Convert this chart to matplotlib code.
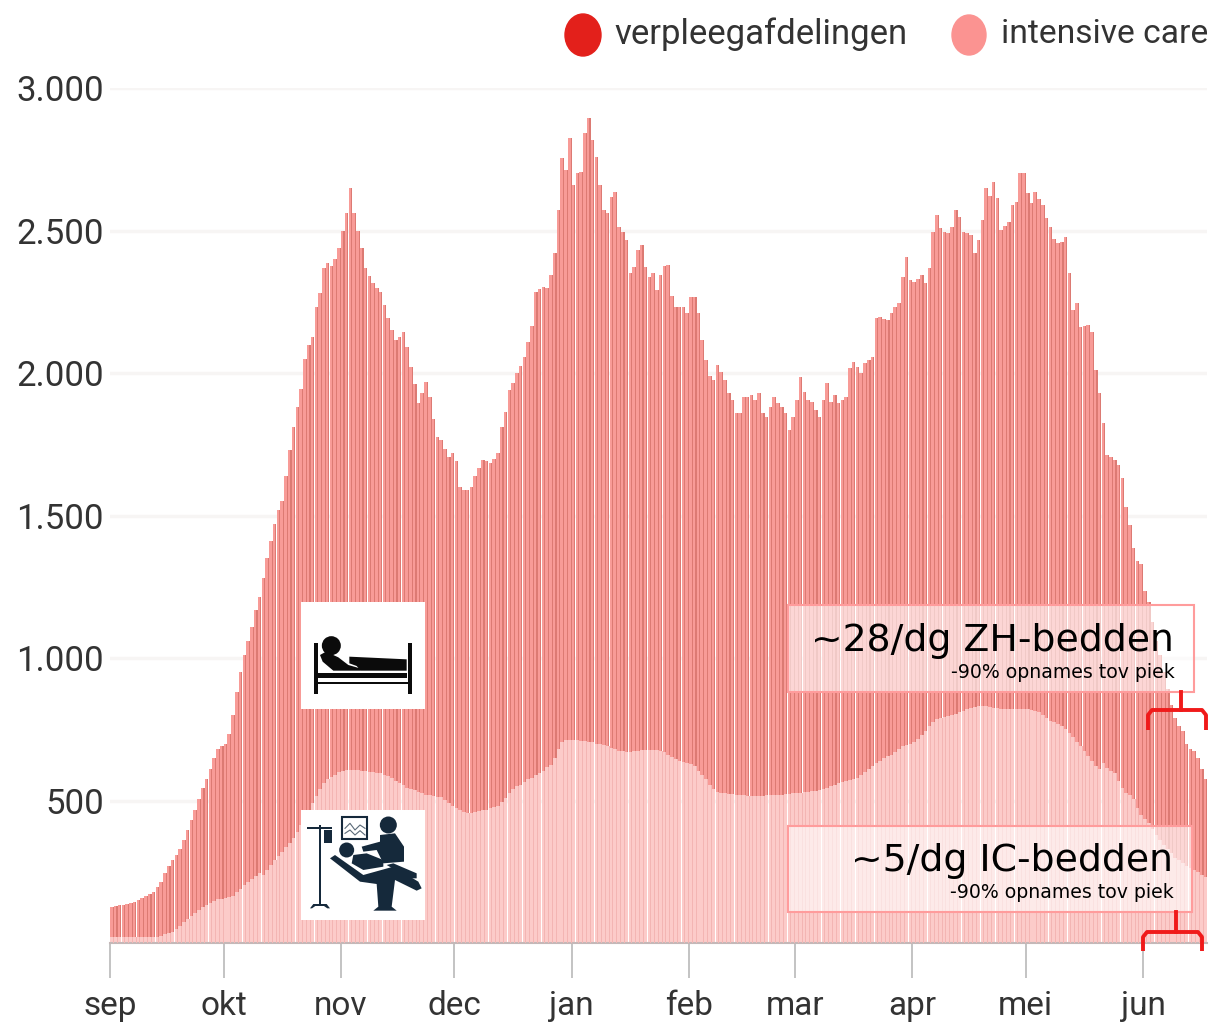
"""Bezetting ziekenhuisbedden per dag: verpleegafdelingen en intensive care."""

import matplotlib

matplotlib.use("Agg")
import matplotlib.pyplot as plt
import numpy as np
from matplotlib.patches import Circle, Ellipse, Polygon, Rectangle

# total occupied beds per day (top of the stack)
total_sep = [126, 130, 132, 135, 138, 140, 145, 150, 158, 165, 172, 180, 195, 215, 245, 270, 290, 310, 330, 360,
	395, 430, 465, 505, 545, 575, 610, 650, 680, 690]
total_okt = [700, 735, 800, 880, 950, 1010, 1060, 1110, 1170, 1215, 1280, 1350, 1410, 1470, 1520, 1550, 1640, 1730,
	1810, 1880, 1945, 2050, 2100, 2125, 2230, 2280, 2370, 2385, 2375, 2400, 2440]
total_nov = [2500, 2560, 2650, 2560, 2500, 2440, 2370, 2340, 2316, 2300, 2284, 2240, 2193, 2150, 2116, 2125, 2144,
	2090, 2021, 1960, 1895, 1930, 1968, 1916, 1840, 1775, 1765, 1735, 1705, 1719]
total_dec = [1690, 1600, 1589, 1590, 1600, 1640, 1665, 1695, 1690, 1684, 1700, 1719, 1810, 1863, 1940, 1965, 2000,
	2025, 2056, 2110, 2165, 2284, 2296, 2302, 2298, 2344, 2421, 2572, 2754, 2712, 2825]
total_jan = [2660, 2702, 2705, 2842, 2895, 2818, 2758, 2660, 2572, 2561, 2618, 2635, 2512, 2495, 2467, 2351, 2372,
	2432, 2449, 2372, 2337, 2351, 2291, 2345, 2375, 2379, 2270, 2232, 2232, 2232, 2211]
total_feb = [2267, 2267, 2211, 2116, 2046, 1990, 1975, 2028, 2005, 1975, 1930, 1905, 1860, 1860, 1916, 1916, 1923,
	1905, 1930, 1860, 1846, 1880, 1916, 1895, 1881, 1860, 1800, 1846]
total_mar = [1905, 1986, 1933, 1905, 1898, 1870, 1846, 1905, 1965, 1898, 1923, 1895, 1905, 1916, 2018, 2039, 2020,
	2000, 2035, 2045, 2056, 2193, 2197, 2190, 2186, 2210, 2230, 2246, 2337, 2407, 2326]
total_apr = [2319, 2330, 2344, 2316, 2368, 2495, 2554, 2509, 2495, 2491, 2512, 2572, 2547, 2495, 2490, 2484, 2421,
	2467, 2537, 2649, 2620, 2670, 2614, 2502, 2515, 2530, 2589, 2600, 2702, 2702]
total_mei = [2632, 2596, 2635, 2610, 2590, 2544, 2512, 2470, 2456, 2460, 2477, 2351, 2221, 2246, 2160, 2165, 2170,
	2144, 2010, 1930, 1825, 1712, 1705, 1695, 1677, 1630, 1530, 1465, 1385, 1340, 1330]
total_jun = [1235, 1195, 1125, 1060, 1010, 950, 890, 835, 790, 760, 745, 700, 680, 675, 650, 610, 575]

# intensive care beds per day
ic_sep = [20, 20, 20, 20, 20, 20, 20, 20, 20, 20, 20, 20, 22, 25, 30, 35, 40, 48, 60, 72,
	85, 95, 105, 115, 125, 135, 140, 148, 155, 155]
ic_okt = [158, 160, 165, 178, 190, 205, 215, 225, 235, 245, 240, 256, 275, 290, 305, 320, 337, 350, 370, 390, 415,
	430, 455, 490, 515, 540, 560, 575, 583, 590, 600]
ic_nov = [605, 607, 607, 607, 607, 605, 603, 600, 600, 598, 595, 590, 585, 578, 570, 560, 553, 545, 540, 537, 530,
	525, 520, 518, 515, 514, 512, 502, 490, 480]
ic_dec = [472, 465, 458, 456, 456, 458, 462, 465, 468, 472, 476, 482, 495, 510, 525, 540, 550, 555, 565, 575, 578,
	590, 597, 605, 618, 625, 650, 680, 705, 712, 712]
ic_jan = [712, 712, 710, 708, 706, 705, 700, 697, 693, 690, 685, 680, 675, 672, 670, 670, 672, 675, 677, 678, 678,
	678, 677, 675, 670, 660, 652, 645, 640, 635, 632]
ic_feb = [628, 620, 605, 590, 575, 555, 540, 530, 527, 525, 524, 522, 520, 519, 518, 517, 516, 515, 516, 517, 518,
	519, 520, 520, 520, 522, 524, 525]
ic_mar = [527, 528, 530, 530, 532, 535, 537, 540, 545, 550, 555, 560, 565, 570, 572, 575, 580, 590, 600, 610, 620,
	630, 640, 650, 655, 660, 670, 680, 690, 695, 700]
ic_apr = [705, 715, 730, 745, 760, 775, 785, 790, 792, 795, 800, 805, 810, 815, 820, 825, 828, 830, 830, 830, 828,
	826, 824, 822, 820, 820, 820, 820, 820, 820]
ic_mei = [820, 818, 815, 810, 800, 790, 780, 775, 770, 762, 752, 738, 722, 705, 690, 672, 655, 640, 622, 610, 630,
	615, 605, 596, 570, 545, 525, 520, 505, 475, 450]
ic_jun = [435, 420, 400, 380, 360, 345, 330, 315, 300, 290, 280, 270, 262, 255, 248, 240, 232]

month_labels = ["sep", "okt", "nov", "dec", "jan", "feb", "mar", "apr", "mei", "jun"]
y_ticks = [500, 1000, 1500, 2000, 2500, 3000]
y_tick_labels = ["500", "1.000", "1.500", "2.000", "2.500", "3.000"]

total_months = [total_sep, total_okt, total_nov, total_dec, total_jan, total_feb, total_mar, total_apr, total_mei, total_jun]
ic_months = [ic_sep, ic_okt, ic_nov, ic_dec, ic_jan, ic_feb, ic_mar, ic_apr, ic_mei, ic_jun]

total = np.concatenate(total_months)
ic = np.concatenate(ic_months)
ward = total - ic
days = np.arange(len(total))
month_starts = np.cumsum([0] + [len(m) for m in total_months[:-1]])

W, H = 1216, 1026
LABEL_FONT = "Roboto"
NOTE_FONT = "DejaVu Sans"

fig = plt.figure(figsize=(W / 100, H / 100), dpi=100, facecolor="white")

# chart area, placed so that the axes line up with the picture's pixels
ax = fig.add_axes([110 / W, 1 - 943 / H, (1207 - 110) / W, (943 - 88) / H])
ax.set_xlim(0, 1097 / 3.784)
ax.set_ylim(0, 3000)
ax.grid(axis="y", color="#f7f5f4", linewidth=2.5, zorder=0)
ax.set_axisbelow(True)

# pale bars with a thin darker strip on each, like the washed out original
ax.bar(days + 0.5, ic, width=0.9, color="#fccbc9", linewidth=0, zorder=2)
ax.bar(days + 0.9, ic, width=0.22, color="#f3b5b3", linewidth=0, zorder=3)
ax.bar(days + 0.5, ward, bottom=ic, width=0.9, color="#f89b97", linewidth=0, zorder=2)
ax.bar(days + 0.85, ward, bottom=ic, width=0.3, color="#dc7a73", linewidth=0, zorder=3)

for side in ["top", "right", "left"]:
	ax.spines[side].set_visible(False)
ax.spines["bottom"].set_color("#c4b8b8")
ax.spines["bottom"].set_linewidth(1.5)
ax.set_xticks(month_starts)
ax.set_xticklabels(month_labels, fontfamily=LABEL_FONT, fontsize=24, color="#333333")
ax.tick_params(axis="x", length=25, width=1.2, color="#b9b9b9", pad=9)
ax.set_yticks(y_ticks)
ax.set_yticklabels(y_tick_labels, fontfamily=LABEL_FONT, fontsize=25, color="#333333")
ax.tick_params(axis="y", length=0, pad=4.5)

# overlay in pixel coordinates for legend, note boxes, brackets and icons
ov = fig.add_axes([0, 0, 1, 1], facecolor="none")
ov.set_xlim(0, W)
ov.set_ylim(H, 0)
ov.axis("off")

# legend
ov.add_patch(Ellipse((583, 35), 36, 42, color="#e3201b"))
ov.add_patch(Ellipse((969, 35), 34, 40, color="#fb9391"))
ov.text(614, 34, "verpleegafdelingen", fontfamily=LABEL_FONT, fontsize=25, color="#333333", va="center")
ov.text(1001, 34, "intensive care", fontfamily=LABEL_FONT, fontsize=24.2, color="#333333", va="center")


def note_box(x0, x1, y0, y1, big, small, big_y, small_y, right):
	"""Half transparent box with a big and a small right aligned line."""
	ov.add_patch(Rectangle((x0, y0), x1 - x0, y1 - y0, facecolor=(1, 1, 1, 0.6), edgecolor="#ff9c9c", linewidth=1.5))
	ov.text(right, big_y, big, fontfamily=NOTE_FONT, fontsize=27.2, color="black", ha="right", va="center")
	ov.text(right + 1, small_y, small, fontfamily=NOTE_FONT, fontsize=13.6, color="black", ha="right", va="center")


def bracket(stem_x, top, bar_y, left, right, foot):
	"""Red curly-ish bracket below a note box."""
	ov.plot(
		[left, left, left + 4, right - 4, right, right],
		[foot, bar_y + 5, bar_y, bar_y, bar_y + 5, foot],
		color="#f01a1a", linewidth=2.8, solid_capstyle="butt",
	)
	ov.plot([stem_x, stem_x], [top, bar_y], color="#f01a1a", linewidth=2.8)


note_box(788, 1194, 605, 692, "~28/dg ZH-bedden", "-90% opnames tov piek", 641, 672, 1174)
note_box(788, 1192, 826, 912, "~5/dg IC-bedden", "-90% opnames tov piek", 861, 893, 1173)
bracket(1181, 692, 710, 1148, 1206, 730)
bracket(1176, 912, 932, 1143, 1202, 951)


def z(x, y):
	"""Map coordinates measured on the icon crop to pixels."""
	return 100 + x / 3, 580 + y / 3


def poly(points, color):
	ov.add_patch(Polygon([z(*p) for p in points], closed=True, facecolor=color, edgecolor="none"))


# bed icon
ov.add_patch(Rectangle((301, 602), 124, 107, facecolor="white", edgecolor="none"))
BLACK = "#0b0b0b"
poly([(643, 188), (654, 188), (654, 342), (643, 342)], BLACK)
poly([(925, 188), (935, 188), (935, 342), (925, 342)], BLACK)
poly([(655, 278), (920, 278), (920, 295), (655, 295)], BLACK)
poly([(655, 305), (925, 305), (925, 313), (655, 313)], BLACK)
poly([(748, 230), (920, 238), (920, 272), (782, 272), (770, 258), (748, 250)], BLACK)
poly([(660, 225), (678, 215), (715, 232), (745, 255), (780, 265), (782, 272), (700, 272), (668, 245)], BLACK)
ov.add_patch(Circle(z(694, 197), 9.5, facecolor=BLACK, edgecolor="none"))

# intensive care icon
ov.add_patch(Rectangle((301, 810), 124, 110, facecolor="white", edgecolor="none"))
NAVY = "#15293b"
poly([(656, 735), (663, 735), (663, 975), (656, 975)], NAVY)
poly([(622, 740), (695, 740), (695, 746), (622, 746)], NAVY)
poly([(672, 750), (695, 750), (695, 790), (672, 790)], NAVY)
poly([(630, 985), (640, 972), (680, 972), (690, 985), (682, 985), (672, 978), (646, 978), (636, 985)], NAVY)
ov.add_patch(Rectangle(z(725, 712), 25, 22, facecolor="white", edgecolor=NAVY, linewidth=1.5))
ov.plot(*zip(*[z(735, 745), z(750, 730), z(765, 750), z(780, 735), z(795, 745)]), color="#5a6a78", linewidth=0.8)
ov.plot(*zip(*[z(735, 760), z(750, 750), z(765, 765), z(780, 752), z(795, 765)]), color="#5a6a78", linewidth=0.8)
ov.add_patch(Circle(z(865, 735), 8.5, facecolor=NAVY, edgecolor="none"))
poly([(785, 800), (840, 785), (840, 765), (885, 760), (912, 800), (912, 845), (850, 850), (830, 810), (790, 815)], NAVY)
ov.add_patch(Circle(z(740, 810), 7.5, facecolor=NAVY, edgecolor="none"))
poly([(760, 825), (800, 820), (850, 840), (850, 860), (790, 870), (755, 850)], NAVY)
poly([(690, 835), (705, 825), (790, 885), (880, 860), (955, 905), (965, 925), (950, 932),
	(885, 900), (875, 980), (890, 992), (820, 992), (835, 980), (830, 912), (780, 905)], NAVY)
poly([(860, 855), (880, 850), (950, 880), (950, 895), (930, 895)], NAVY)

fig.savefig("out.png", dpi=100)
